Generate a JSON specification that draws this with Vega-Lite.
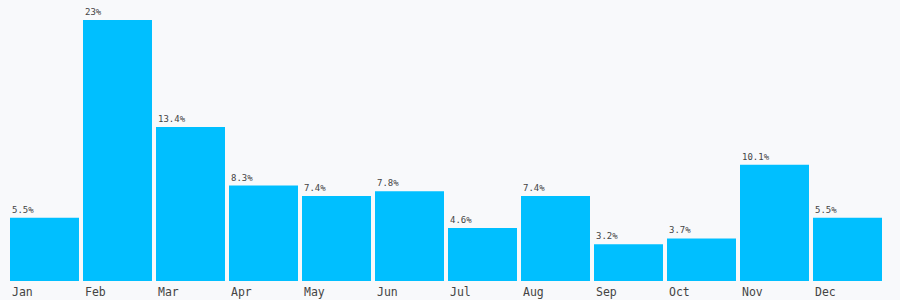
{
  "$schema": "https://vega.github.io/schema/vega-lite/v6.json",
  "width": 872,
  "height": 261,
  "autosize": {"type": "none"},
  "padding": {"left": 10, "top": 20, "right": 18, "bottom": 19},
  "background": "#f8f9fb",
  "config": {"view": {"stroke": null}},
  "data": {
    "values": [
      {"month": "Jan", "value": 5.5, "label": "5.5%"},
      {"month": "Feb", "value": 22.7, "label": "23%"},
      {"month": "Mar", "value": 13.4, "label": "13.4%"},
      {"month": "Apr", "value": 8.3, "label": "8.3%"},
      {"month": "May", "value": 7.4, "label": "7.4%"},
      {"month": "Jun", "value": 7.8, "label": "7.8%"},
      {"month": "Jul", "value": 4.6, "label": "4.6%"},
      {"month": "Aug", "value": 7.4, "label": "7.4%"},
      {"month": "Sep", "value": 3.2, "label": "3.2%"},
      {"month": "Oct", "value": 3.7, "label": "3.7%"},
      {"month": "Nov", "value": 10.1, "label": "10.1%"},
      {"month": "Dec", "value": 5.5, "label": "5.5%"}
    ]
  },
  "encoding": {
    "x": {
      "field": "month",
      "type": "nominal",
      "sort": null,
      "bandPosition": 0,
      "scale": {"paddingInner": 0.0548, "paddingOuter": 0},
      "axis": null
    }
  },
  "layer": [
    {
      "mark": {"type": "bar", "color": "#00bfff"},
      "encoding": {
        "y": {
          "field": "value",
          "type": "quantitative",
          "scale": {"domain": [0, 22.7], "nice": false, "zero": true},
          "axis": null
        }
      }
    },
    {
      "mark": {
        "type": "text",
        "align": "left",
        "baseline": "alphabetic",
        "dx": 2,
        "dy": -5,
        "font": "DejaVu Sans Mono",
        "fontSize": 9,
        "color": "#444444"
      },
      "encoding": {
        "y": {"field": "value", "type": "quantitative"},
        "text": {"field": "label"}
      }
    },
    {
      "mark": {
        "type": "text",
        "align": "left",
        "baseline": "top",
        "dx": 2,
        "dy": 6,
        "font": "DejaVu Sans Mono",
        "fontSize": 11.5,
        "color": "#444444"
      },
      "encoding": {
        "y": {"datum": 0, "type": "quantitative"},
        "text": {"field": "month"}
      }
    }
  ]
}
